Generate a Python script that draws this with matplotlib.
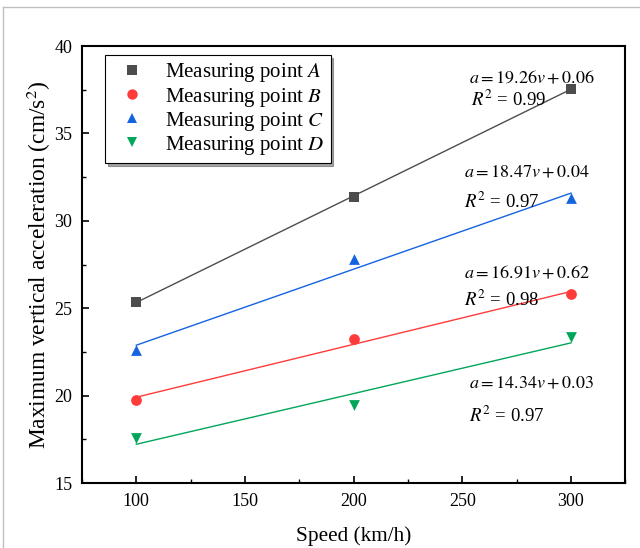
import numpy as np
import matplotlib
matplotlib.use("Agg")
import matplotlib.pyplot as plt
from matplotlib.ticker import MultipleLocator
from matplotlib.lines import Line2D

plt.rcParams['font.family'] = ['Liberation Serif', 'DejaVu Serif']
plt.rcParams['mathtext.fontset'] = 'stix'

speed = [100, 200, 300]
point_a = [25.35, 31.38, 37.55]
point_b = [19.75, 23.25, 25.8]
point_c = [22.6, 27.8, 31.3]
point_d = [17.55, 19.45, 23.35]

labels = ['Measuring point $\\mathit{A}$', 'Measuring point $\\mathit{B}$',
          'Measuring point $\\mathit{C}$', 'Measuring point $\\mathit{D}$']
equations = ['$a = 19.26v + 0.06$', '$a = 18.47v + 0.04$',
             '$a = 16.91v + 0.62$', '$a = 14.34v + 0.03$']
r2_texts = ['$R^2$ = 0.99', '$R^2$ = 0.97', '$R^2$ = 0.98', '$R^2$ = 0.97']

colors = ['#4d4d4d', '#ff3b3b', '#1464e0', '#00a65a']
markers = ['s', 'o', '^', 'v']

fig = plt.figure(figsize=(6.4, 5.48), dpi=100)
ax = fig.add_axes([0.128, 0.1186, 0.849, 0.7974])

series = [point_a, point_b, point_c, point_d]
handles = []
for vals, c, m, lab in zip(series, colors, markers, labels):
    x = np.array(speed, dtype=float)
    y = np.array(vals)
    k, b = np.polyfit(x, y, 1)
    ax.plot(x, k * x + b, color=c, lw=1.0, zorder=2)
    ax.scatter(x, y, marker=m, color=c, s=60, zorder=3, linewidths=0)
    handles.append(Line2D([], [], ls='none', marker=m, color=c, markersize=7.5,
                          markeredgewidth=0, label=lab))

eq_pos = [(253, 38.15), (251, 32.75), (251, 26.95), (253, 20.7)]
r2_pos = [(254, 36.9), (251, 31.1), (251, 25.5), (253, 18.85)]
for (ex, ey), (rx, ry), et, rt in zip(eq_pos, r2_pos, equations, r2_texts):
    ax.text(ex, ey, et, fontsize=13, ha='left', va='center')
    ax.text(rx, ry, rt, fontsize=13.5, ha='left', va='center')

ax.set_xlim(75, 325)
ax.set_ylim(15, 40)
ax.xaxis.set_major_locator(MultipleLocator(50))
ax.xaxis.set_minor_locator(MultipleLocator(25))
ax.yaxis.set_major_locator(MultipleLocator(5))
ax.yaxis.set_minor_locator(MultipleLocator(2.5))
ax.tick_params(which='major', direction='in', length=5, width=1.2, labelsize=13, pad=7)
ax.tick_params(which='minor', direction='in', length=3, width=1.0)
for s in ax.spines.values():
    s.set_linewidth(1.5)

ax.set_xlabel('Speed (km/h)', fontsize=15.3, labelpad=12)
ax.set_ylabel('Maximum vertical acceleration (cm/s$^2$)', fontsize=16.8, labelpad=1)

leg = ax.legend(handles=handles, loc='upper left', bbox_to_anchor=(0.042, 0.979),
                borderaxespad=0,
                fontsize=15, frameon=True, fancybox=False, shadow=True,
                borderpad=0.3, labelspacing=0.05, handletextpad=0.6,
                handlelength=2.0)
leg.get_frame().set_edgecolor('black')
leg.get_frame().set_linewidth(0.8)

# light figure border (top and left)
fig.add_artist(Line2D([3 / 640, 1], [1 - 7 / 548, 1 - 7 / 548], color='#c0c0c0', lw=1,
                      transform=fig.transFigure))
fig.add_artist(Line2D([3 / 640, 3 / 640], [0, 1 - 7 / 548], color='#c0c0c0', lw=1,
                      transform=fig.transFigure))

fig.savefig('out.png', dpi=100)
